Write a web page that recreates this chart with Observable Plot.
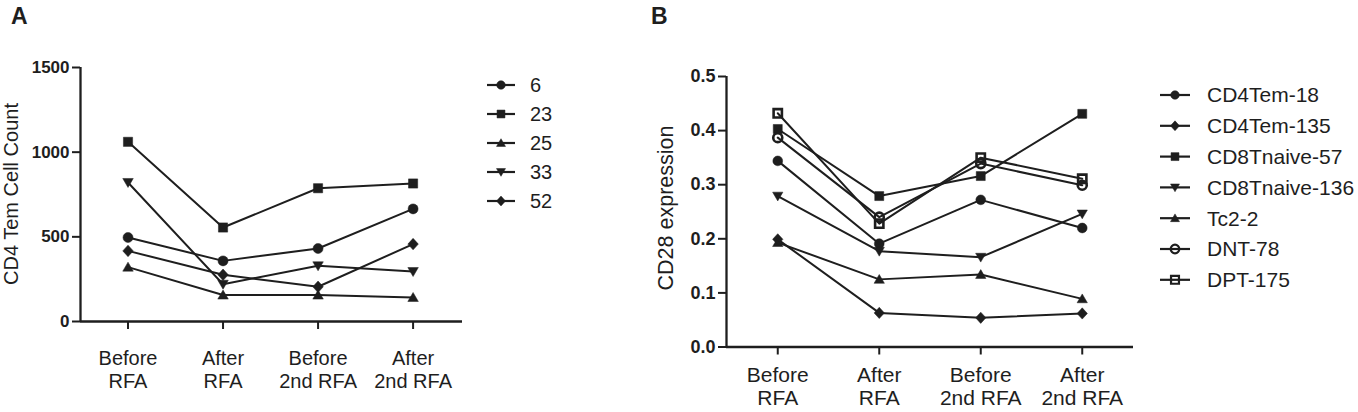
<!DOCTYPE html>
<html><head><meta charset="utf-8">
<script src="https://cdn.jsdelivr.net/npm/d3@7"></script>
<script src="https://cdn.jsdelivr.net/npm/@observablehq/plot@0.6"></script>
<style>
html,body{margin:0;padding:0;background:#fff;}
#root{position:relative;width:1358px;height:412px;overflow:hidden;font-family:"Liberation Sans",Arial,sans-serif;color:#1e1e1e;}
.abs{position:absolute;top:0;}
.ylab{position:absolute;white-space:nowrap;line-height:1;transform:translate(-50%,-50%) rotate(-90deg);}
.letter{position:absolute;font-weight:bold;line-height:1;}
</style></head><body><div id="root"></div>
<script>
// ---------- data ----------
const categories = ["Before\nRFA", "After\nRFA", "Before\n2nd RFA", "After\n2nd RFA"];

// Panel A: CD4 Tem cell count
const seriesA = ["6", "23", "25", "33", "52"];
const countA_6  = [496, 358, 431, 665];
const countA_23 = [1061, 555, 787, 815];
const countA_25 = [321, 156, 156, 142];
const countA_33 = [821, 220, 329, 295];
const countA_52 = [417, 276, 205, 457];
const yTicksA = [0, 500, 1000, 1500];

// Panel B: CD28 expression
const seriesB = ["CD4Tem-18", "CD4Tem-135", "CD8Tnaive-57", "CD8Tnaive-136", "Tc2-2", "DNT-78", "DPT-175"];
const cd28_CD4Tem18     = [0.344, 0.191, 0.272, 0.220];
const cd28_CD4Tem135    = [0.199, 0.063, 0.054, 0.062];
const cd28_CD8Tnaive57  = [0.403, 0.279, 0.316, 0.431];
const cd28_CD8Tnaive136 = [0.279, 0.177, 0.166, 0.246];
const cd28_Tc22         = [0.193, 0.125, 0.134, 0.089];
const cd28_DNT78        = [0.387, 0.240, 0.339, 0.299];
const cd28_DPT175       = [0.432, 0.228, 0.350, 0.311];
const yTicksB = [0, 0.1, 0.2, 0.3, 0.4, 0.5];

// ---------- symbols ----------
function mk(fn) { return {draw(ctx, size) { const r = Math.sqrt(size / Math.PI); fn(ctx, r); }}; }
const symCircle = mk((c, r) => { c.moveTo(r, 0); c.arc(0, 0, r, 0, 2 * Math.PI); c.closePath(); });
const symSquare = mk((c, r) => { const s = r * 0.92; c.moveTo(-s, -s); c.lineTo(s, -s); c.lineTo(s, s); c.lineTo(-s, s); c.closePath(); });
const symTriUp = mk((c, r) => { c.moveTo(0, -r); c.lineTo(r * 1.05, r * 0.8); c.lineTo(-r * 1.05, r * 0.8); c.closePath(); });
const symTriDown = mk((c, r) => { c.moveTo(0, r); c.lineTo(r * 1.05, -r * 0.8); c.lineTo(-r * 1.05, -r * 0.8); c.closePath(); });
const symDiamond = mk((c, r) => { c.moveTo(0, -r * 1.15); c.lineTo(r * 1.05, 0); c.lineTo(0, r * 1.15); c.lineTo(-r * 1.05, 0); c.closePath(); });

const INK = "#1e1e1e";

const defsA = [
  {name: seriesA[0], values: countA_6, sym: symCircle, open: false},
  {name: seriesA[1], values: countA_23, sym: symSquare, open: false},
  {name: seriesA[2], values: countA_25, sym: symTriUp, open: false},
  {name: seriesA[3], values: countA_33, sym: symTriDown, open: false},
  {name: seriesA[4], values: countA_52, sym: symDiamond, open: false}
];
const defsB = [
  {name: seriesB[0], values: cd28_CD4Tem18, sym: symCircle, open: false},
  {name: seriesB[1], values: cd28_CD4Tem135, sym: symDiamond, open: false},
  {name: seriesB[2], values: cd28_CD8Tnaive57, sym: symSquare, open: false},
  {name: seriesB[3], values: cd28_CD8Tnaive136, sym: symTriDown, open: false},
  {name: seriesB[4], values: cd28_Tc22, sym: symTriUp, open: false},
  {name: seriesB[5], values: cd28_DNT78, sym: symCircle, open: true},
  {name: seriesB[6], values: cd28_DPT175, sym: symSquare, open: true}
];

const root = document.getElementById("root");

function panel(o) {
  const rows = o.defs.flatMap(d => d.values.map((v, i) => ({series: d.name, i, v})));
  const marks = [
    Plot.ruleY([o.yDomain[0]], {stroke: INK, strokeWidth: 2.3}),
    Plot.ruleX([o.xDomain[0]], {y1: o.yDomain[0], y2: o.yDomain[1], stroke: INK, strokeWidth: 2.3}),
    Plot.axisY({ticks: o.yTicks, tickFormat: o.yFmt, tickSize: 8, tickPadding: 3, fontSize: o.tickFont, fontWeight: "bold", strokeWidth: 2, label: null}),
    Plot.axisX({ticks: [0, 1, 2, 3], tickFormat: i => categories[i], tickSize: 8, tickPadding: o.catPad, fontSize: o.catFont, lineHeight: o.catLH, strokeWidth: 2, label: null})
  ];
  for (const d of o.defs) {
    marks.push(Plot.dot(rows.filter(r => r.series === d.name), {
      x: "i", y: "v", symbol: d.sym, r: d.open ? o.r * 0.92 : o.r,
      fill: d.open ? "none" : INK, stroke: INK, strokeWidth: d.open ? 2.6 : 0.5
    }));
  }
  marks.push(Plot.line(rows, {x: "i", y: "v", z: "series", stroke: INK, strokeWidth: 2}));
  const svg = Plot.plot({
    width: o.width, height: 412,
    marginLeft: o.marginLeft, marginRight: o.marginRight, marginTop: o.marginTop, marginBottom: o.marginBottom,
    x: {type: "linear", domain: o.xDomain, axis: null},
    y: {type: "linear", domain: o.yDomain, axis: null},
    style: {fontFamily: '"Liberation Sans", Arial, sans-serif', color: INK, background: "transparent", overflow: "visible"},
    marks
  });
  svg.classList.add("abs");
  svg.style.left = o.left + "px";
  root.appendChild(svg);
}

panel({left: 0, width: 470, marginLeft: 80, marginRight: 8, marginTop: 67, marginBottom: 91,
  xDomain: [-0.5, 3.52], yDomain: [0, 1500], yTicks: yTicksA, yFmt: d3.format("d"),
  tickFont: 17, catFont: 20, catPad: 18.8, catLH: 1.15, defs: defsA, r: 5});

panel({left: 640, width: 500, marginLeft: 86, marginRight: 7, marginTop: 76, marginBottom: 65.5,
  xDomain: [-0.505, 3.505], yDomain: [0, 0.5], yTicks: yTicksB, yFmt: d3.format(".1f"),
  tickFont: 18, catFont: 21, catPad: 11, catLH: 1.08, defs: defsB, r: 4.9});

// ---------- labels ----------
function addDiv(cls, text, css) {
  const el = document.createElement("div");
  el.className = cls; el.textContent = text;
  Object.assign(el.style, css);
  root.appendChild(el);
}
addDiv("letter", "A", {left: "11px", top: "5px", fontSize: "23px"});
addDiv("letter", "B", {left: "651px", top: "5px", fontSize: "23px"});
addDiv("ylab", "CD4 Tem Cell Count", {left: "11px", top: "194px", fontSize: "20px"});
addDiv("ylab", "CD28 expression", {left: "667px", top: "208px", fontSize: "21.5px"});

// ---------- legends ----------
function legend(defs, o) {
  const svg = d3.select(root).append("svg").attr("class", "abs")
    .style("left", "0px").attr("width", 1358).attr("height", 412)
    .style("pointer-events", "none");
  defs.forEach((d, k) => {
    const y = o.y0 + k * o.dy;
    const g = svg.append("g");
    g.append("line").attr("x1", o.x1).attr("x2", o.x2).attr("y1", y).attr("y2", y)
      .attr("stroke", INK).attr("stroke-width", 2.2);
    g.append("path").attr("transform", `translate(${(o.x1 + o.x2) / 2},${y})`)
      .attr("d", d3.symbol().type(d.sym).size(Math.PI * o.r * o.r)())
      .attr("fill", d.open ? "none" : INK).attr("stroke", INK).attr("stroke-width", d.open ? 2.2 : 0.5);
    g.append("text").attr("x", o.tx).attr("y", y).attr("dy", "0.35em")
      .attr("font-size", o.font).attr("fill", INK)
      .attr("font-family", '"Liberation Sans", Arial, sans-serif').text(d.name);
  });
}
legend(defsA, {x1: 487, x2: 515, tx: 530, y0: 85, dy: 29, font: 20, r: 4.3});
legend(defsB, {x1: 1160, x2: 1190, tx: 1207, y0: 95, dy: 30.8, font: 21, r: 4.3});
</script></body></html>
